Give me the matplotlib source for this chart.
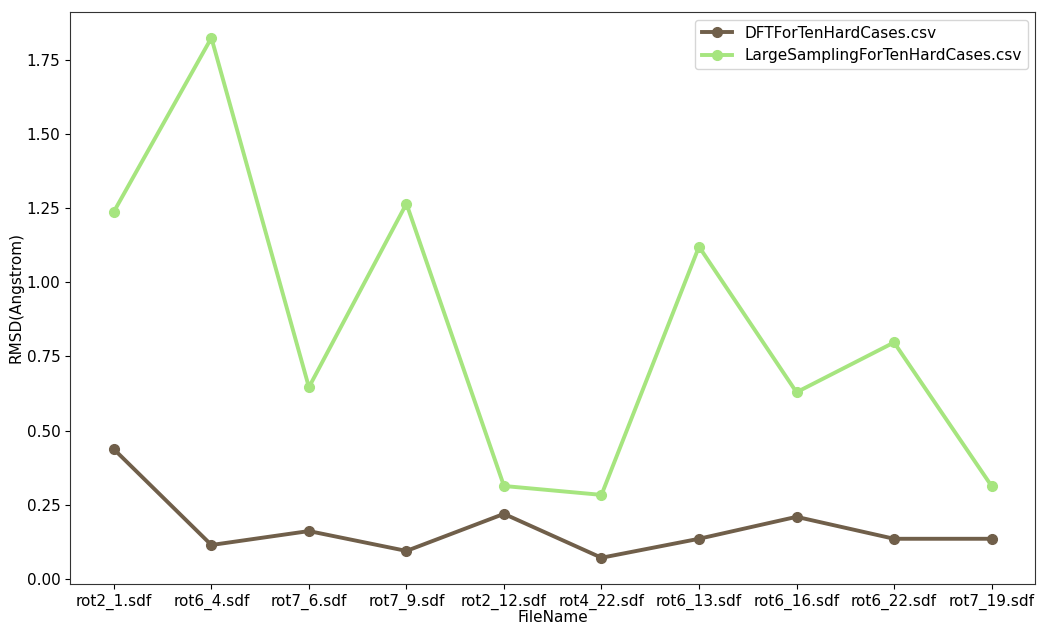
import matplotlib
matplotlib.use("Agg")
import matplotlib.pyplot as plt

# RMSD per structure file for the two runs
file_names = [
    "rot2_1.sdf", "rot6_4.sdf", "rot7_6.sdf", "rot7_9.sdf", "rot2_12.sdf",
    "rot4_22.sdf", "rot6_13.sdf", "rot6_16.sdf", "rot6_22.sdf", "rot7_19.sdf",
]
dft_rmsd = [0.437, 0.114, 0.161, 0.094, 0.219, 0.071, 0.135, 0.209, 0.135, 0.135]
large_sampling_rmsd = [1.238, 1.824, 0.646, 1.265, 0.313, 0.283, 1.120, 0.629, 0.797, 0.313]

FONT_SIZE = 11

fig = plt.figure(figsize=(10.37, 6.25), dpi=100)
ax = fig.add_axes([0.0675, 0.066, 0.931, 0.915])

xs = list(range(len(file_names)))
ax.plot(xs, dft_rmsd, color="#705f4a", lw=2.8, marker="o", ms=7,
        label="DFTForTenHardCases.csv")
ax.plot(xs, large_sampling_rmsd, color="#a6e57f", lw=2.8, marker="o", ms=7,
        label="LargeSamplingForTenHardCases.csv")

ax.set_xticks(xs)
ax.set_xticklabels(file_names, fontsize=FONT_SIZE)
ax.set_yticks([0.0, 0.25, 0.5, 0.75, 1.0, 1.25, 1.5, 1.75])
ax.set_yticklabels(["0.00", "0.25", "0.50", "0.75", "1.00", "1.25", "1.50", "1.75"],
                   fontsize=FONT_SIZE)
ax.set_xlabel("FileName", fontsize=FONT_SIZE, labelpad=0)
ax.set_ylabel("RMSD(Angstrom)", fontsize=FONT_SIZE, labelpad=2)
for spine in ax.spines.values():
    spine.set_color("#333333")

ax.legend(loc="upper right", fontsize=FONT_SIZE)

fig.savefig("out.png", dpi=100)
